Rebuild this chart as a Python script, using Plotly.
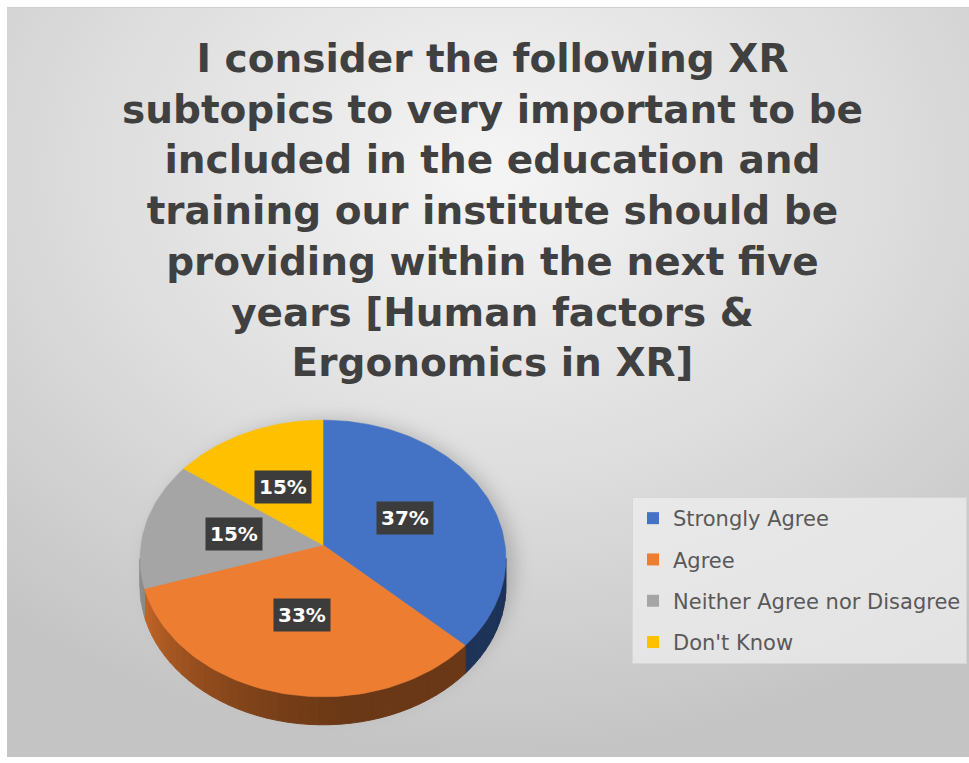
import base64
import math

import plotly.graph_objects as go

# Survey answers (percent of respondents)
categories = ["Strongly Agree", "Agree", "Neither Agree nor Disagree", "Don't Know"]
shares = [37, 33, 15, 15]
slice_colors = ["#4472C4", "#ED7D31", "#A5A5A5", "#FFC000"]

title_lines = [
    "I consider the following XR",
    "subtopics to very important to be",
    "included in the education and",
    "training our institute should be",
    "providing within the next five",
    "years [Human factors &",
    "Ergonomics in XR]",
]

W, H = 969, 763

# Geometry of the tilted pie, in pixel units of the plot area
CX, CY = 323, 545          # apex of the slices
RX, RY = 182, 137          # radii of the top face
PERSP = 0.0975             # perspective foreshortening
DEPTH = 28                 # thickness of the disc


def project(theta_deg, r=1.0, drop=0.0):
    """Map an angle (clockwise from 12 o'clock) and radius onto the tilted disc."""
    t = math.radians(theta_deg)
    u, v = r * math.sin(t), r * math.cos(t)
    s = 1 + PERSP * v
    return CX + RX * u / s, CY - RY * v / s + drop


def shade(hex_color, f):
    h = hex_color.lstrip("#")
    rgb = [int(h[i:i + 2], 16) for i in (0, 2, 4)]
    return "rgb({},{},{})".format(*[max(0, min(255, int(c * f))) for c in rgb])


def side_factor(theta):
    w = min(1.0, max(0.0, (theta - 170) / 85.0))
    return 0.45 + 0.40 * w ** 1.5


# cumulative slice angles
total = float(sum(shares))
bounds = [0.0]
for s in shares:
    bounds.append(bounds[-1] + 360.0 * s / total)

# the wall is visible between the outline's right and left extremes
wall_from = math.degrees(math.acos(-PERSP))
wall_to = 360.0 - wall_from

fig = go.Figure()

# --- side walls (front of the disc) ---
STEP = 3.0
for i, col in enumerate(slice_colors):
    a0, a1 = max(bounds[i], wall_from), min(bounds[i + 1], wall_to)
    t = a0
    while t < a1 - 1e-9:
        t2 = min(t + STEP, a1)
        p1, p2 = project(t), project(t2)
        q2, q1 = project(t2, drop=DEPTH), project(t, drop=DEPTH)
        c = shade(col, side_factor((t + t2) / 2))
        fig.add_trace(go.Scatter(
            x=[p1[0], p2[0], q2[0], q1[0], p1[0]],
            y=[p1[1], p2[1], q2[1], q1[1], p1[1]],
            mode="lines", fill="toself", fillcolor=c,
            line=dict(color=c, width=1), hoverinfo="skip", showlegend=False,
        ))
        t = t2

# --- top faces ---
for i, (cat, col) in enumerate(zip(categories, slice_colors)):
    a0, a1 = bounds[i], bounds[i + 1]
    n = max(8, int((a1 - a0) / 1.5))
    xs, ys = [CX], [CY]
    for k in range(n + 1):
        x, y = project(a0 + (a1 - a0) * k / n)
        xs.append(x)
        ys.append(y)
    xs.append(CX)
    ys.append(CY)
    fig.add_trace(go.Scatter(
        x=xs, y=ys, mode="lines", fill="toself", fillcolor=col,
        line=dict(color=col, width=0.6), name=cat,
        hovertemplate=f"{cat}: {shares[i]}%<extra></extra>", showlegend=False,
    ))

# --- legend entries ---
for cat, col in zip(categories, slice_colors):
    fig.add_trace(go.Scatter(
        x=[None], y=[None], mode="markers", name=cat, legendgroup=cat,
        marker=dict(symbol="square", size=11, color=col),
    ))

# --- percentage labels ---
for i, s in enumerate(shares):
    mid = (bounds[i] + bounds[i + 1]) / 2
    lx, ly = project(mid, r=0.5)
    fig.add_annotation(
        x=lx, y=ly, xref="x", yref="y", text=f"{s}%", showarrow=False,
        font=dict(family="DejaVu Sans", size=20, color="white", weight="bold"),
        bgcolor="#3c3c3c", borderpad=4,
    )

# --- title ---
fig.add_annotation(
    x=492, y=210, xref="x", yref="y", text="<br>".join(title_lines),
    showarrow=False, align="center", xanchor="center", yanchor="middle",
    font=dict(family="DejaVu Sans", size=39, color="#404040", weight="bold"),
)

# --- background panel with radial shading and soft pie shadow ---
PX0, PY0, PW, PH = 7, 7, W - 7, 750
scx, scy = CX - PX0 + 8, CY - PY0 + DEPTH / 2 + 8
svg = f"""<svg xmlns="http://www.w3.org/2000/svg" width="{PW}" height="{PH}" viewBox="0 0 {PW} {PH}">
<defs>
<radialGradient id="g" cx="0.5" cy="0.22" r="0.78">
<stop offset="0" stop-color="#f5f5f5"/>
<stop offset="0.55" stop-color="#dcdcdc"/>
<stop offset="1" stop-color="#c4c4c4"/>
</radialGradient>
<filter id="b" x="-30%" y="-30%" width="160%" height="160%"><feGaussianBlur stdDeviation="9"/></filter>
</defs>
<rect x="0" y="0" width="{PW}" height="{PH}" fill="url(#g)"/>
<line x1="0" y1="0.5" x2="{PW}" y2="0.5" stroke="#cfcfcf" stroke-width="1"/>
<ellipse cx="{scx}" cy="{scy}" rx="{RX + 2}" ry="{RY + 10}" fill="#707070" opacity="0.38" filter="url(#b)"/>
</svg>"""
src = "data:image/svg+xml;base64," + base64.b64encode(svg.encode()).decode()
fig.add_layout_image(
    source=src, xref="paper", yref="paper", x=PX0 / W, y=1 - PY0 / H,
    sizex=PW / W, sizey=PH / H, xanchor="left", yanchor="top",
    sizing="stretch", layer="below",
)

fig.update_layout(
    width=W, height=H,
    margin=dict(l=0, r=0, t=0, b=0),
    paper_bgcolor="white", plot_bgcolor="rgba(0,0,0,0)",
    xaxis=dict(range=[0, W], visible=False, fixedrange=True),
    yaxis=dict(range=[H, 0], visible=False, fixedrange=True),
    legend=dict(
        x=632 / W, y=1 - 497 / H, xanchor="left", yanchor="top",
        bgcolor="rgba(238,238,238,0.75)", bordercolor="#d6d6d6", borderwidth=1,
        font=dict(family="DejaVu Sans", size=21, color="#595959"),
        traceorder="grouped", tracegroupgap=11, itemsizing="constant",
    ),
    showlegend=True,
)

fig.write_html("out.html")
